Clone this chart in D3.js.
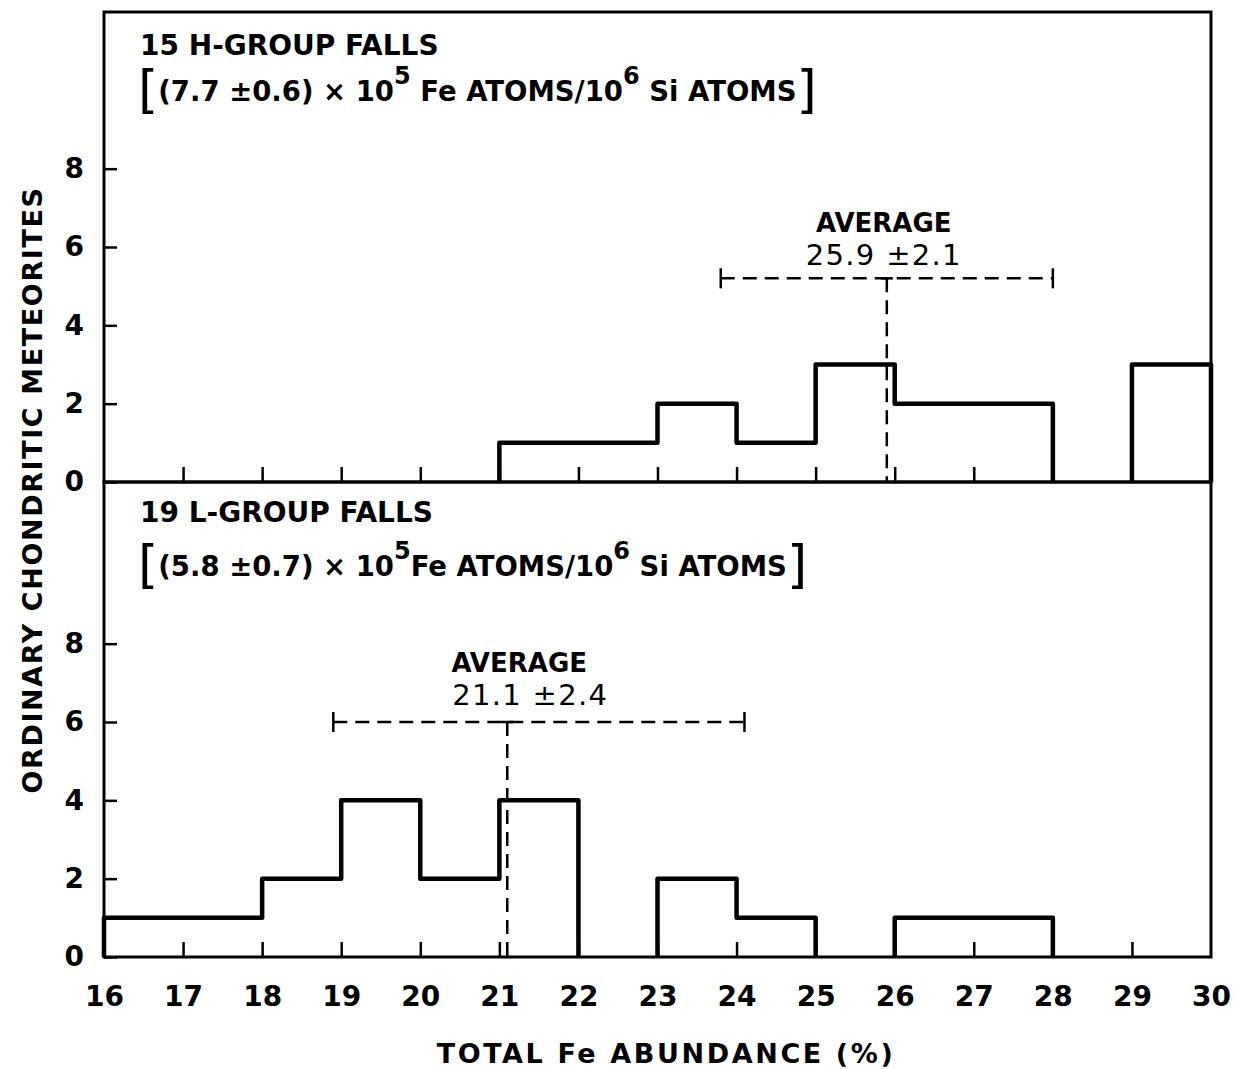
<!DOCTYPE html>
<html>
<head>
<meta charset="utf-8">
<script src="https://cdn.jsdelivr.net/npm/d3@7"></script>
<style>
  body { margin: 0; background: #fff; }
  text { font-family: "DejaVu Sans", "Liberation Sans", sans-serif; font-weight: bold; fill: #000; }
</style>
</head>
<body>
<svg id="chart" width="1234" height="1069"></svg>
<script>
// bins are 1% wide, starting at these Fe values
var binStarts = d3.range(16, 30);
var hCounts = [0, 0, 0, 0, 0, 1, 1, 2, 1, 3, 2, 2, 0, 3];
var lCounts = [1, 1, 2, 4, 2, 4, 0, 2, 1, 0, 1, 1, 0, 0];
var xTicks = d3.range(16, 31);
var yTicks = [0, 2, 4, 6, 8];

// average and its error bar as drawn (lo, mean, hi, height)
var hAvg = {lo: 23.8, mean: 25.9, hi: 28.0, y: 5.2, label: "25.9 \u00b12.1"};
var lAvg = {lo: 18.9, mean: 21.1, hi: 24.1, y: 6.0, label: "21.1 \u00b12.4"};

var svg = d3.select("#chart");
var left = 104, right = 1211;
var x = d3.scaleLinear().domain([16, 30]).range([left, right]);

var panels = [
  {top: 12, bottom: 482, counts: hCounts, avg: hAvg,
   title: "15 H-GROUP FALLS", a: "(7.7 \u00b10.6) \u00d7 10", gap: " Fe ATOMS/10",
   titleY: 55, capY: 101, avgTextY: 232, avgDx: [0, 0]},
  {top: 482, bottom: 957, counts: lCounts, avg: lAvg,
   title: "19 L-GROUP FALLS", a: "(5.8 \u00b10.7) \u00d7 10", gap: "Fe ATOMS/10",
   titleY: 522, capY: 576, avgTextY: 672, avgDx: [15, 26]}
];

panels.forEach(function(p, i) {
  var y = d3.scaleLinear().domain([0, 12]).range([p.bottom, p.bottom - 470]);
  var g = svg.append("g");

  // frame
  g.append("rect")
    .attr("x", left).attr("y", p.top)
    .attr("width", right - left).attr("height", p.bottom - p.top)
    .attr("fill", "none").attr("stroke", "#000").attr("stroke-width", 3);

  // y axis, ticks pointing inward
  var ya = g.append("g")
    .attr("transform", "translate(" + left + ",0)")
    .call(d3.axisLeft(y).tickValues(yTicks).tickSizeInner(-13).tickSizeOuter(0).tickPadding(20));
  ya.select(".domain").remove();
  ya.selectAll("line").attr("stroke-width", 2.5);
  ya.selectAll("text").attr("font-size", 28).attr("font-family", null);

  // x axis ticks
  var xa = g.append("g")
    .attr("transform", "translate(0," + p.bottom + ")")
    .call(d3.axisBottom(x).tickValues(xTicks.slice(1, -1)).tickSizeInner(-15).tickSizeOuter(0).tickPadding(30));
  xa.select(".domain").remove();
  xa.selectAll("line").attr("stroke-width", 2.5);
  xa.selectAll("text").remove();

  if (i === 1) {
    var xl = g.append("g")
      .attr("transform", "translate(0," + p.bottom + ")")
      .call(d3.axisBottom(x).tickValues(xTicks).tickSize(0).tickPadding(29));
    xl.select(".domain").remove();
    xl.selectAll("text").attr("font-size", 28).attr("font-family", null);
  }

  // histogram outline, one path per run of non-empty bins
  var line = d3.line().x(function(d) { return x(d[0]); }).y(function(d) { return y(d[1]); });
  var runs = [], cur = null;
  p.counts.forEach(function(c, k) {
    if (c > 0) {
      if (!cur) { cur = [[binStarts[k], 0]]; runs.push(cur); }
      cur.push([binStarts[k], c], [binStarts[k] + 1, c]);
    } else if (cur) {
      cur.push([binStarts[k], 0]);
      cur = null;
    }
  });
  if (cur) cur.push([30, 0]);
  g.selectAll(".run").data(runs).enter().append("path")
    .attr("class", "run")
    .attr("d", line)
    .attr("fill", "none").attr("stroke", "#000")
    .attr("stroke-width", 4.5).attr("stroke-linejoin", "round");

  // average marker
  var a = p.avg;
  var dash = "14,8";
  g.append("line")
    .attr("x1", x(a.lo)).attr("x2", x(a.hi))
    .attr("y1", y(a.y)).attr("y2", y(a.y))
    .attr("stroke", "#000").attr("stroke-width", 2.5).attr("stroke-dasharray", dash);
  g.append("line")
    .attr("x1", x(a.mean)).attr("x2", x(a.mean))
    .attr("y1", y(a.y)).attr("y2", y(0))
    .attr("stroke", "#000").attr("stroke-width", 2.5).attr("stroke-dasharray", dash);
  [a.lo, a.hi].forEach(function(v) {
    g.append("line")
      .attr("x1", x(v)).attr("x2", x(v))
      .attr("y1", y(a.y) - 10).attr("y2", y(a.y) + 10)
      .attr("stroke", "#000").attr("stroke-width", 2.5);
  });
  g.append("line")
    .attr("x1", x(a.mean) - 6).attr("x2", x(a.mean) + 6)
    .attr("y1", y(a.y)).attr("y2", y(a.y))
    .attr("stroke", "#000").attr("stroke-width", 2.5);

  var cx = x(a.mean) - 3;
  g.append("text").attr("x", cx + p.avgDx[0]).attr("y", p.avgTextY)
    .attr("text-anchor", "middle").attr("font-size", 26).text("AVERAGE");
  g.append("text").attr("x", cx + p.avgDx[1]).attr("y", p.avgTextY + 33)
    .attr("text-anchor", "middle").attr("font-size", 29)
    .style("font-weight", "normal").attr("letter-spacing", 1.3).text(a.label);

  // panel captions
  g.append("text").attr("x", 140).attr("y", p.titleY)
    .attr("font-size", 28).text(p.title);
  var t = g.append("text").attr("x", 138).attr("y", p.capY).attr("font-size", 27.5);
  t.append("tspan").attr("font-size", 52).style("font-weight", "normal").attr("dy", 6).text("[");
  t.append("tspan").attr("dy", -6).text(p.a);
  t.append("tspan").attr("dy", -17).attr("font-size", 24).text("5");
  t.append("tspan").attr("dy", 17).text(p.gap);
  t.append("tspan").attr("dy", -17).attr("font-size", 24).text("6");
  t.append("tspan").attr("dy", 17).text(" Si ATOMS");
  t.append("tspan").attr("font-size", 52).style("font-weight", "normal").attr("dy", 6).text("]");
});

// axis titles
svg.append("text")
  .attr("transform", "translate(42,490) rotate(-90)")
  .attr("text-anchor", "middle").attr("font-size", 27).attr("letter-spacing", 1.6)
  .text("ORDINARY CHONDRITIC METEORITES");
svg.append("text")
  .attr("x", 666).attr("y", 1063)
  .attr("text-anchor", "middle").attr("font-size", 27).attr("letter-spacing", 2.6)
  .text("TOTAL Fe ABUNDANCE (%)");
</script>
</body>
</html>
